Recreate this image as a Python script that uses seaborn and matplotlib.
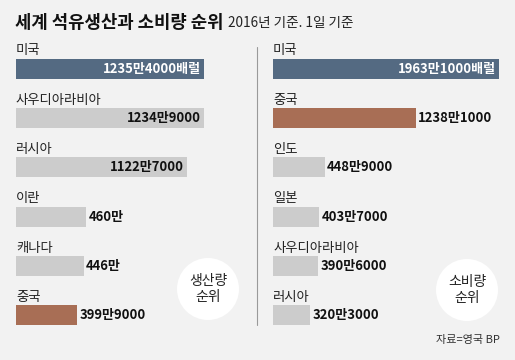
import matplotlib
matplotlib.use("Agg")
import matplotlib.pyplot as plt
from matplotlib.patches import Ellipse
from matplotlib.lines import Line2D
import seaborn as sns
import pandas as pd

# ---- data (단위: 만 배럴/일) ----
prod_countries = ["미국", "사우디아라비아", "러시아", "이란", "캐나다", "중국"]
prod_values = [1235.4, 1234.9, 1122.7, 460.0, 446.0, 399.9]
prod_labels = ["1235만4000배럴", "1234만9000", "1122만7000", "460만", "446만", "399만9000"]

cons_countries = ["미국", "중국", "인도", "일본", "사우디아라비아", "러시아"]
cons_values = [1963.1, 1238.1, 448.9, 403.7, 390.6, 320.3]
cons_labels = ["1963만1000배럴", "1238만1000", "448만9000", "403만7000", "390만6000", "320만3000"]

title = "세계 석유생산과 소비량 순위"
subtitle = "2016년 기준. 1일 기준"
source = "자료=영국 BP"

BLUE = "#546a82"
BROWN = "#a86e55"
GRAY = "#cccccc"
BG = "#f2f2f2"

sns.set_theme(style="white")
plt.rcParams["font.family"] = ["Noto Sans CJK KR", "DejaVu Sans"]

W, H = 515, 360
fig = plt.figure(figsize=(W / 100, H / 100), dpi=100, facecolor=BG)


def px_axes(x0, x1, y0, y1):
    return fig.add_axes([x0 / W, 1 - y1 / H, (x1 - x0) / W, (y1 - y0) / H])


def panel(ax, names, values, labels, colors, xmax, inside_n, inside_white):
    df = pd.DataFrame({"name": names, "value": values})
    sns.barplot(data=df, x="value", y="name", hue="name", palette=colors,
                legend=False, orient="h", width=0.4, ax=ax, saturation=1,
                edgecolor="none")
    ax.set_xlim(0, xmax)
    ax.set_ylim(len(names) - 0.5, -0.5)
    ax.set_axis_off()
    pad = xmax * 0.010
    for i, (n, v, lab) in enumerate(zip(names, values, labels)):
        ax.text(0, i - 0.29, n, fontsize=9.6, color="#222222", va="baseline", ha="left")
        if i < inside_n:
            col = "white" if i in inside_white else "#111111"
            ax.text(v - pad * 1.3, i, lab, fontsize=9.4, fontweight="bold", color=col,
                    va="center", ha="right")
        else:
            ax.text(v + pad, i, lab, fontsize=9.4, fontweight="bold", color="#111111",
                    va="center", ha="left")


# left panel: scale 188px for 1235.4
axL = px_axes(16, 250, 44, 340)
panel(axL, prod_countries, prod_values, prod_labels,
      [BLUE, GRAY, GRAY, GRAY, GRAY, BROWN], 234 / (188 / 1235.4), 3, {0})

# right panel: scale 226px for 1963.1
axR = px_axes(273, 505, 44, 340)
panel(axR, cons_countries, cons_values, cons_labels,
      [BLUE, BROWN, GRAY, GRAY, GRAY, GRAY], 232 / (226 / 1963.1), 1, {0})

# divider
fig.add_artist(Line2D([257 / W, 257 / W], [1 - 47 / H, 1 - 325 / H],
                      color="#9a9a9a", lw=0.8, transform=fig.transFigure))

# circles
for cx, cy, txt in [(208, 289, "생산량\n순위"), (467, 290, "소비량\n순위")]:
    fig.add_artist(Ellipse((cx / W, 1 - cy / H), 62 / W, 62 / H,
                           transform=fig.transFigure, facecolor="white",
                           edgecolor="none", zorder=2))
    fig.text(cx / W, 1 - cy / H, txt, ha="center", va="center", fontsize=10,
             color="#222222", linespacing=1.2, zorder=3)

# title
t = fig.text(15 / W, 1 - 23 / H, title, fontsize=12.8, fontweight="bold",
             color="#111111", va="center", ha="left")
fig.canvas.draw()
bb = t.get_window_extent()
fig.text((bb.x1 + 5) / W, 1 - 23 / H, subtitle, fontsize=9.8, color="#222222",
         va="center", ha="left")

fig.text(500 / W, 1 - 340 / H, source, fontsize=8, color="#333333",
         ha="right", va="center")

fig.savefig("out.png", dpi=100, facecolor=BG)
